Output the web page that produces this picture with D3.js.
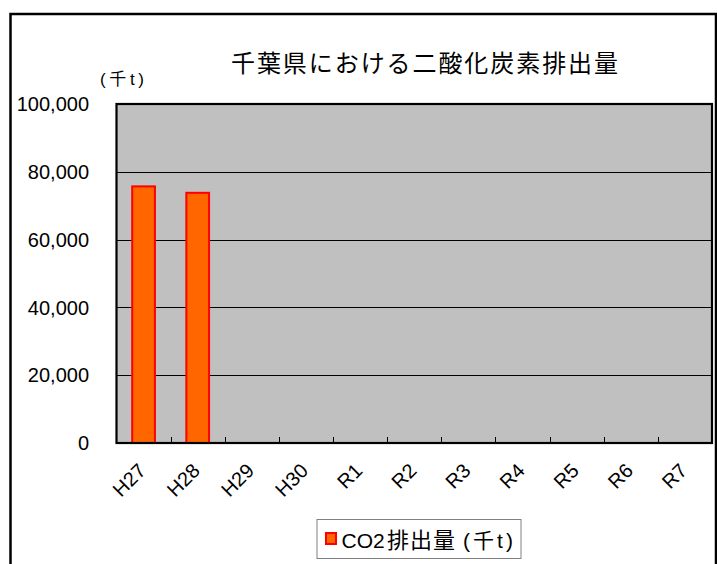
<!DOCTYPE html>
<html><head><meta charset="utf-8">
<script src="https://cdn.jsdelivr.net/npm/d3@7"></script>
<style>
html,body{margin:0;padding:0;background:#fff;}
svg{display:block;}
text{font-family:"Liberation Sans","Noto Sans CJK JP",sans-serif;fill:#000;}
</style></head>
<body>
<script>
const categories = ["H27","H28","H29","H30","R1","R2","R3","R4","R5","R6","R7"];
const co2Values = [75700, 73800, null, null, null, null, null, null, null, null, null];
const yTicks = [0, 20000, 40000, 60000, 80000, 100000];
const titleText = "千葉県における二酸化炭素排出量";
const unitText = "(千t)";
const legendName = "CO2";
const legendNameJa = "排出量";
const legendUnit = "(千t)";

const W = 717, H = 564;
const plot = {left: 116.5, right: 712, top: 104, bottom: 443};

const svg = d3.select("body").append("svg").attr("width", W).attr("height", H);

// outer chart border
svg.append("rect").attr("x", 10.5).attr("y", 14).attr("width", 705.5).attr("height", 560)
  .attr("fill", "#fff").attr("stroke", "#000").attr("stroke-width", 2.5);

const x = d3.scaleBand().domain(categories).range([plot.left, plot.right]).paddingInner(0).paddingOuter(0);
const y = d3.scaleLinear().domain([0, 100000]).range([plot.bottom, plot.top]);

// plot background
svg.append("rect").attr("x", plot.left).attr("y", plot.top)
  .attr("width", plot.right - plot.left).attr("height", plot.bottom - plot.top)
  .attr("fill", "#c0c0c0");

// gridlines
svg.append("g").selectAll("line").data(yTicks.filter(d => d > 0 && d < 100000)).join("line")
  .attr("x1", plot.left).attr("x2", plot.right)
  .attr("y1", d => Math.round(y(d)) + 0.5).attr("y2", d => Math.round(y(d)) + 0.5)
  .attr("stroke", "#000").attr("stroke-width", 1);

// bars
const barW = x.bandwidth() * 0.42;
svg.append("g").selectAll("rect").data(categories.map((c, i) => ({c, v: co2Values[i]})).filter(d => d.v != null)).join("rect")
  .attr("x", d => x(d.c) + x.bandwidth() / 2 - barW / 2)
  .attr("y", d => y(d.v))
  .attr("width", barW)
  .attr("height", d => y(0) - y(d.v))
  .attr("fill", "#ff6600").attr("stroke", "#ff0000").attr("stroke-width", 2);

// x axis with inward ticks at category boundaries
const boundaries = categories.slice(1).map(c => x(c));
svg.append("g").selectAll("line").data(boundaries).join("line")
  .attr("x1", d => Math.round(d) + 0.5).attr("x2", d => Math.round(d) + 0.5)
  .attr("y1", plot.bottom).attr("y2", plot.bottom - 6)
  .attr("stroke", "#000").attr("stroke-width", 1);

// plot border
svg.append("rect").attr("x", plot.left).attr("y", plot.top)
  .attr("width", plot.right - plot.left).attr("height", plot.bottom - plot.top)
  .attr("fill", "none").attr("stroke", "#000").attr("stroke-width", 2.2);

// y tick labels
const fmt = d3.format(",");
svg.append("g").selectAll("text").data(yTicks).join("text")
  .attr("x", 89).attr("y", d => y(d)).attr("dy", "0.36em")
  .attr("text-anchor", "end").attr("font-size", 20)
  .text(d => fmt(d));

// x tick labels rotated
svg.append("g").selectAll("text").data(categories).join("text")
  .attr("transform", d => `translate(${x(d) + x.bandwidth() / 2 + 3.5},${plot.bottom + 29}) rotate(-45)`)
  .attr("text-anchor", "end").attr("font-size", 20)
  .text(d => d);

// title
svg.append("text").attr("x", 424.5).attr("y", 72).attr("text-anchor", "middle")
  .attr("font-size", 24).attr("textLength", 387).attr("lengthAdjust", "spacing")
  .text(titleText);

// unit label
svg.append("text").attr("x", 100).attr("y", 85).attr("font-size", 17)
  .attr("textLength", 44).attr("lengthAdjust", "spacing")
  .text(unitText);

// legend
const lg = svg.append("g");
lg.append("rect").attr("x", 317).attr("y", 519.5).attr("width", 204).attr("height", 39)
  .attr("fill", "#fff").attr("stroke", "#808080").attr("stroke-width", 1);
lg.append("rect").attr("x", 326).attr("y", 533).attr("width", 10).attr("height", 11)
  .attr("fill", "#ff6600").attr("stroke", "#ff0000").attr("stroke-width", 2);
lg.append("text").attr("x", 341.5).attr("y", 548).attr("font-size", 21).text(legendName);
lg.append("text").attr("x", 387).attr("y", 548).attr("font-size", 22)
  .attr("textLength", 68).attr("lengthAdjust", "spacing").text(legendNameJa);
lg.append("text").attr("x", 463).attr("y", 548).attr("font-size", 21)
  .attr("textLength", 50).attr("lengthAdjust", "spacing").text(legendUnit);
</script>
</body></html>
